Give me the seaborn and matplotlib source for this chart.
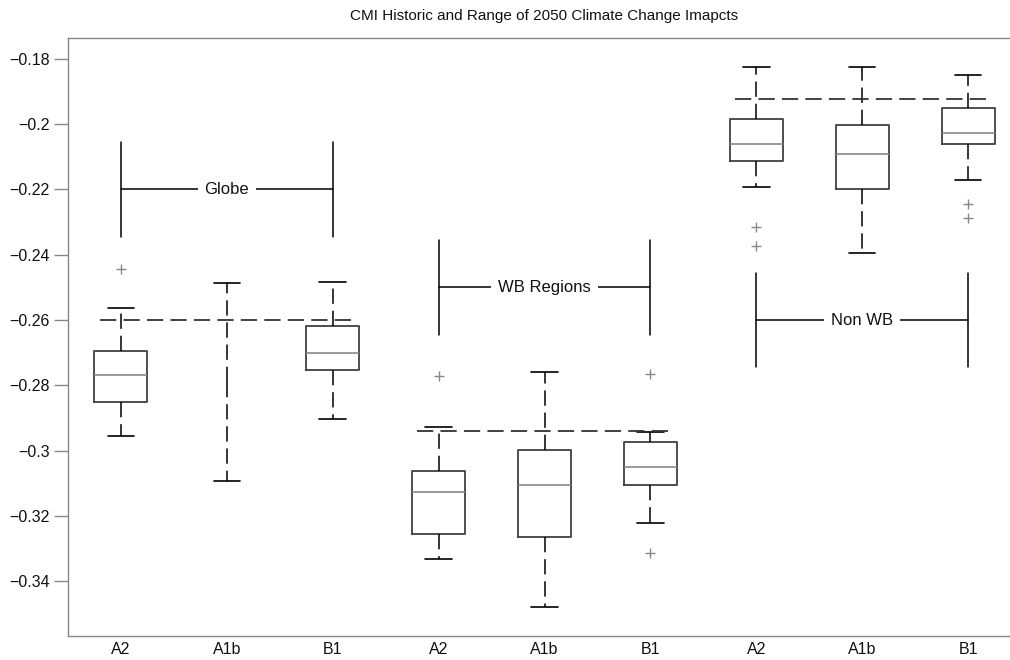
import numpy as np
import pandas as pd
import matplotlib
matplotlib.use("Agg")
import matplotlib.pyplot as plt
import seaborn as sns

# ---------------- data ----------------
scenario_labels = ["A2", "A1b", "B1", "A2", "A1b", "B1", "A2", "A1b", "B1"]
box_pos = [0, 1, 2, 3, 4, 5, 6, 7, 8]
whisker_low = [-0.2955, -0.3094, -0.2903, -0.3333, -0.3480, -0.3222, -0.2193, -0.2396, -0.2172]
q1 = [-0.2852, -0.2790, -0.2752, -0.3254, -0.3265, -0.3106, -0.2112, -0.2198, -0.2061]
median = [-0.2769, -0.2790, -0.2702, -0.3126, -0.3106, -0.3050, -0.2060, -0.2092, -0.2026]
q3 = [-0.2694, -0.2790, -0.2617, -0.3062, -0.2998, -0.2973, -0.1985, -0.2002, -0.1950]
whisker_high = [-0.2564, -0.2486, -0.2484, -0.2927, -0.2760, -0.2942, -0.1824, -0.1826, -0.1848]
has_box = [True, False, True, True, True, True, True, True, True]

outlier_pos = [0, 3, 5, 5, 6, 6, 8, 8]
outlier_val = [-0.2445, -0.2772, -0.2765, -0.3314, -0.2314, -0.2372, -0.2244, -0.2286]

group_names = ["Globe", "WB Regions", "Non WB"]
group_first = [0, 3, 6]
group_last = [2, 5, 8]
historic = [-0.2600, -0.2940, -0.1923]
bracket_y = [-0.2200, -0.2500, -0.2600]

ytick_vals = [-0.18, -0.2, -0.22, -0.24, -0.26, -0.28, -0.3, -0.32, -0.34]

# ---------------- build long table (five-number summaries) ----------------
rows = []
for i in range(9):
    for v in (whisker_low[i], q1[i], median[i], q3[i], whisker_high[i]):
        rows.append({"pos": box_pos[i], "value": v, "boxed": has_box[i]})
df = pd.DataFrame(rows)
out_df = pd.DataFrame({"pos": outlier_pos, "value": outlier_val})

sns.set_style("white")
fam = ["Liberation Sans Narrow", "Liberation Sans", "DejaVu Sans"]
plt.rcParams["font.family"] = fam

fig = plt.figure(figsize=(10.1, 6.6), dpi=100)
ax = fig.add_axes([68 / 1010, 24 / 660, (1021 - 68) / 1010, 598 / 660])

box_col = "#404040"
common = dict(x="pos", y="value", native_scale=True, whis=(0, 100), width=0.5,
              fill=False, showfliers=False, ax=ax, capwidths=0.25, color=box_col,
              whiskerprops=dict(color="black", linestyle=(0, (10, 4.5)), linewidth=1.1),
              capprops=dict(color="black", linewidth=1.2))

sns.boxplot(data=df[df["boxed"]], linewidth=1.3,
            medianprops=dict(color="#888888", linewidth=1.2), **common)
sns.boxplot(data=df[~df["boxed"]], linewidth=1.3,
            boxprops=dict(visible=False), medianprops=dict(visible=False), **common)

sns.scatterplot(data=out_df, x="pos", y="value", marker="+", color="#888888",
                s=60, linewidth=1.0, ax=ax, zorder=5)

# historic dashed lines
for g in range(3):
    sns.lineplot(x=[group_first[g] - 0.2, group_last[g] + 0.22], y=[historic[g], historic[g]],
                 color="#333333", linewidth=1.3, linestyle=(0, (9, 4)), ax=ax)

# group brackets
for g in range(3):
    a, b = group_first[g], group_last[g]
    yc = bracket_y[g]
    ax.plot([a, b], [yc, yc], color="black", linewidth=1.1)
    ax.plot([a, a], [yc - 0.0145, yc + 0.0145], color="black", linewidth=1.1)
    ax.plot([b, b], [yc - 0.0145, yc + 0.0145], color="black", linewidth=1.1)
    ax.text((a + b) / 2, yc, group_names[g], ha="center", va="center", fontsize=12,
            color="#111111",
            bbox=dict(facecolor="white", edgecolor="none", pad=5))

ax.set_xlim(-0.5, 8.5)
ax.set_ylim(-0.3568, -0.1736)
ax.set_xticks(box_pos)
ax.set_xticklabels(scenario_labels)
ax.set_yticks(ytick_vals)
ax.set_yticklabels([f"{v:g}".replace("-", "\u2212") for v in ytick_vals])
ax.set_xlabel("")
ax.set_ylabel("")
ax.tick_params(axis="y", direction="out", length=10, width=1, color="#888888",
               labelsize=11.5, labelcolor="#111111", pad=3, left=True)
ax.tick_params(axis="x", length=0, labelsize=11.5, labelcolor="#111111", pad=4)
for s in ["left", "top", "bottom"]:
    ax.spines[s].set_color("#888888")
    ax.spines[s].set_linewidth(1.0)
ax.spines["right"].set_visible(False)

fig.text((68 + 1021) / 2 / 1010, 1 - 16 / 660,
         "CMI Historic and Range of 2050 Climate Change Imapcts",
         ha="center", va="center", fontsize=11, color="#111111")

fig.savefig("out.png", dpi=100)
